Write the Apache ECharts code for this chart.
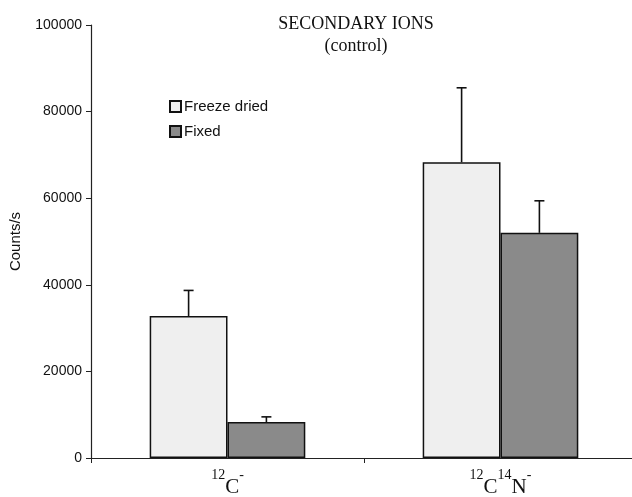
<!DOCTYPE html>
<html><head><meta charset="utf-8">
<script src="https://cdn.jsdelivr.net/npm/echarts@6/dist/echarts.min.js"></script>
<style>html,body{margin:0;padding:0;background:#fff}#c{width:632px;height:497px}</style>
</head><body><div id="c"></div>
<script>
const categories = ['C-', 'CN-'];
const categoryLabels = ['{s|12}{b|C}{s|-}', '{s|12}{b|C}{s|14}{b|N}{s|-}'];
const seriesNames = ['Freeze dried', 'Fixed'];
const freezeDried = [32800, 68300];
const fixed = [8300, 52000];
const freezeDriedErr = [38700, 85500];
const fixedErr = [9500, 59400];
const yTicks = [0, 20000, 40000, 60000, 80000, 100000];

const GAP = 0.43;
const chart = echarts.init(document.getElementById('c'));
function errSeries(tops, means, idx) {
  return {
    type: 'custom',
    silent: true,
    z: 1,
    data: categories.map((c, i) => [i, means[i], tops[i]]),
    renderItem: function (params, api) {
      const band = api.size([1, 0])[0];
      const bw = band * (1 - GAP) / 2;
      const off = (idx === 0 ? -1 : 1) * bw / 2;
      const base = api.coord([api.value(0), api.value(1)]);
      const top = api.coord([api.value(0), api.value(2)]);
      const x = base[0] + off;
      const st = { stroke: '#111', lineWidth: 1.6 };
      return { type: 'group', children: [
        { type: 'line', shape: { x1: x, y1: base[1], x2: x, y2: top[1] }, style: st },
        { type: 'line', shape: { x1: x - 5, y1: top[1], x2: x + 5, y2: top[1] }, style: st }
      ]};
    }
  };
}
chart.setOption({
  animation: false,
  title: {
    text: 'SECONDARY IONS', subtext: '(control)',
    left: 351, top: 10, textAlign: 'center', itemGap: 4,
    textStyle: { fontFamily: 'Liberation Serif', fontSize: 18, fontWeight: 'normal', color: '#111' },
    subtextStyle: { fontFamily: 'Liberation Serif', fontSize: 18, color: '#111' }
  },
  legend: {
    orient: 'vertical', left: 169, top: 99, padding: 0, itemWidth: 11, itemHeight: 11, itemGap: 10,
    icon: 'rect',
    data: seriesNames,
    textStyle: { fontFamily: 'Liberation Sans', fontSize: 15, color: '#111', padding: [0, 0, 0, -2] }
  },
  grid: { left: 91, right: -5, top: 25, bottom: 39, outerBoundsMode: 'none' },
  xAxis: {
    type: 'category', data: categories,
    axisLine: { lineStyle: { color: '#222', width: 1.2 } },
    axisTick: { show: true, length: 5, lineStyle: { color: '#222' } },
    axisLabel: {
      margin: 10,
      formatter: (v, i) => categoryLabels[i],
      rich: {
        s: { fontFamily: 'Liberation Serif', fontSize: 14, color: '#111', verticalAlign: 'top', lineHeight: 30 },
        b: { fontFamily: 'Liberation Serif', fontSize: 21, color: '#111', verticalAlign: 'bottom', lineHeight: 30, padding: [14, 0, 0, 0] }
      }
    }
  },
  yAxis: {
    type: 'value', min: yTicks[0], max: yTicks[yTicks.length - 1], interval: yTicks[1] - yTicks[0],
    name: 'Counts/s', nameLocation: 'middle', nameGap: 68,
    nameTextStyle: { fontFamily: 'Liberation Sans', fontSize: 15, color: '#111' },
    axisLine: { show: true, lineStyle: { color: '#222', width: 1.2 } },
    axisTick: { show: true, length: 5, lineStyle: { color: '#222' } },
    splitLine: { show: false },
    axisLabel: { fontFamily: 'Liberation Sans', fontSize: 14, color: '#111', margin: 9, formatter: v => String(v) }
  },
  series: [
    { name: seriesNames[0], type: 'bar', data: freezeDried, barGap: '0%', barCategoryGap: (GAP * 100) + '%', z: 2,
      itemStyle: { color: '#efefef', borderColor: '#111', borderWidth: 1.5 } },
    { name: seriesNames[1], type: 'bar', data: fixed, z: 2,
      itemStyle: { color: '#8a8a8a', borderColor: '#111', borderWidth: 1.5 } },
    errSeries(freezeDriedErr, freezeDried, 0),
    errSeries(fixedErr, fixed, 1)
  ]
});
</script></body></html>
